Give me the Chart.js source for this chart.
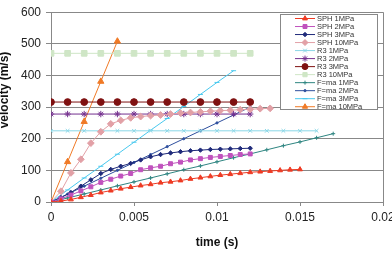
<!DOCTYPE html>
<html>
<head>
<meta charset="utf-8">
<script src="https://cdn.jsdelivr.net/npm/chart.js@4"></script>
<style>
  html, body { margin: 0; padding: 0; background: #fff; overflow: hidden; }
  #wrap { width: 410px; height: 253px; }
</style>
</head>
<body>
<div id="wrap"><canvas id="chart" width="410" height="253"></canvas></div>
<script>
// time grids (s)
const tFine = [0, 0.0006, 0.0012, 0.0018, 0.0024, 0.003, 0.0036, 0.0042, 0.0048, 0.0054, 0.006, 0.0066, 0.0072, 0.0078, 0.0084, 0.009, 0.0096, 0.0102, 0.0108, 0.0114, 0.012, 0.0126, 0.0132, 0.0138, 0.0144, 0.015];
const tStep = [0, 0.001, 0.002, 0.003, 0.004, 0.005, 0.006, 0.007, 0.008, 0.009, 0.01, 0.011, 0.012, 0.013, 0.014, 0.015, 0.016, 0.017];

// velocities (m/s)
const sph1 = [0, 3, 8, 15, 22, 30, 36, 42, 47, 52, 56, 61, 64, 68, 73, 77, 81, 85, 88, 91, 94, 96, 98, 100, 102, 103];
const sph2 = [0, 10, 22, 35, 48, 62, 72, 82, 90, 102, 108, 113, 121, 126, 133, 137, 141, 144, 147, 150, 152];
const sph3 = [0, 14, 30, 50, 70, 90, 103, 113, 122, 133, 143, 150, 155, 159, 162, 164, 166, 167, 168, 169, 170];
const sph10 = [0, 34, 92, 135, 186, 222, 247, 258, 266, 270, 273, 275, 278, 281, 283, 285, 287, 289, 290, 292, 293, 295, 296];
const r3_1 = [225, 225, 225, 225, 225, 225, 225, 225, 225, 225, 225, 225, 225, 225, 225, 225, 225];
const r3_2 = [278, 278, 278, 278, 278, 278, 278, 278, 278, 278, 278, 278, 278];
const r3_3 = [316, 316, 316, 316, 316, 316, 316, 316, 316, 316, 316, 316, 316];
const r3_10 = [470, 470, 470, 470, 470, 470, 470, 470, 470, 470, 470, 470, 470];
const fma1 = [0, 12.7, 25.4, 38, 51, 63.5, 76, 89, 102, 114, 127, 140, 152, 165, 178, 190, 203, 216];
const fma2 = [0, 25, 50, 75, 100, 125, 150, 175, 200, 225, 250, 275, 300];
const fma3 = [0, 38, 76, 113, 151, 189, 227, 264, 302, 340, 378, 415];
const fma10 = [0, 127, 254, 381, 508];

const xTicks = [0, 0.005, 0.01, 0.015, 0.02];
const xTickLabels = ['0', '0.005', '0.01', '0.015', '0.02'];
const yTicks = [0, 100, 200, 300, 400, 500, 600];

function pts(ts, vs) {
  return vs.map((v, i) => ({ x: ts[i], y: v }));
}

function series(label, ts, vs, color, style, radius, fill) {
  return {
    label: label,
    data: pts(ts, vs),
    showLine: true,
    borderColor: color,
    backgroundColor: fill || color,
    pointBorderColor: color,
    pointBackgroundColor: fill || color,
    borderWidth: 1,
    pointStyle: style,
    pointRadius: radius,
    pointBorderWidth: 1,
    pointHoverRadius: radius
  };
}

const datasets = [
  series('SPH 1MPa', tFine, sph1, '#ee3b24', 'triangle', 2.8),
  series('SPH 2MPa', tFine, sph2, '#c052bd', 'rect', 2.8),
  series('SPH 3MPa', tFine, sph3, '#1f2a7a', 'rectRot', 2.2),
  series('SPH 10MPa', tFine, sph10, '#e2a0a6', 'rectRot', 3.4),
  series('R3 1MPa', tStep, r3_1, '#8ad6e6', 'crossRot', 2.6),
  series('R3 2MPa', tStep, r3_2, '#74308e', 'star', 3.2),
  series('R3 3MPa', tStep, r3_3, '#7f1111', 'circle', 3.4),
  series('R3 10MPa', tStep, r3_10, '#cfe6c6', 'rect', 4),
  series('F=ma 1MPa', tStep, fma1, '#2e8581', 'cross', 2),
  series('F=ma 2MPa', tStep, fma2, '#2e4f9e', 'circle', 1.1),
  series('F=ma 3MPa', tStep, fma3, '#48c8ee', 'line', 2.5),
  series('F=ma 10MPa', tStep, fma10, '#f07a26', 'triangle', 3.6)
];

const extras = {
  id: 'extras',
  afterDraw(chart) {
    const ctx = chart.ctx;
    const a = chart.chartArea;
    ctx.save();
    // right frame
    ctx.strokeStyle = '#888';
    ctx.lineWidth = 1;
    ctx.beginPath();
    ctx.moveTo(Math.round(a.right) + 0.5, a.top);
    ctx.lineTo(Math.round(a.right) + 0.5, a.bottom);
    ctx.stroke();

    // axis titles
    ctx.fillStyle = '#111';
    ctx.font = 'bold 12px "Liberation Sans", Arial, sans-serif';
    ctx.textAlign = 'center';
    ctx.textBaseline = 'middle';
    ctx.fillText('time (s)', 217, 243);
    ctx.save();
    ctx.translate(5, 90);
    ctx.rotate(-Math.PI / 2);
    ctx.fillText('velocity (m/s)', 0, 0);
    ctx.restore();

    // legend box
    const bx = 280, by = 14, bw = 97, bh = 95;
    ctx.fillStyle = '#fff';
    ctx.fillRect(bx, by, bw, bh);
    ctx.strokeStyle = '#888';
    ctx.strokeRect(bx + 0.5, by + 0.5, bw, bh);
    ctx.font = '7.5px "Liberation Sans", Arial, sans-serif';
    ctx.textAlign = 'left';
    chart.data.datasets.forEach((ds, i) => {
      const y = 18.5 + i * 8.02;
      ctx.strokeStyle = ds.borderColor;
      ctx.lineWidth = 1;
      ctx.beginPath();
      ctx.moveTo(295, y);
      ctx.lineTo(315, y);
      ctx.stroke();
      ctx.fillStyle = ds.pointBackgroundColor;
      Chart.helpers.drawPoint(ctx, {
        pointStyle: ds.pointStyle,
        radius: Math.min(ds.pointRadius, 3),
        borderWidth: 1,
        rotation: 0
      }, 305, y);
      ctx.fillStyle = '#333';
      ctx.fillText(ds.label, 317, y + 0.5);
    });
    ctx.restore();
  }
};

new Chart(document.getElementById('chart'), {
  type: 'scatter',
  data: { datasets: datasets },
  options: {
    responsive: false,
    animation: false,
    events: [],
    layout: { padding: { top: 10, right: 27, left: 0, bottom: 0 } },
    plugins: {
      legend: { display: false },
      tooltip: { enabled: false }
    },
    scales: {
      x: {
        type: 'linear',
        min: 0,
        max: 0.02,
        afterFit(scale) { scale.height = 51; },
        afterBuildTicks(scale) { scale.ticks = xTicks.map(v => ({ value: v })); },
        ticks: {
          color: '#222',
          font: { family: '"Liberation Sans", Arial, sans-serif', size: 12 },
          padding: 4,
          maxRotation: 0,
          callback: (v) => xTickLabels[xTicks.indexOf(v)]
        },
        grid: { display: true, drawOnChartArea: false, drawTicks: true, tickLength: 4, color: '#888' },
        border: { display: true, color: '#888' }
      },
      y: {
        min: 0,
        max: 600,
        afterFit(scale) { scale.width = 51; },
        afterBuildTicks(scale) { scale.ticks = yTicks.map(v => ({ value: v })); },
        ticks: {
          color: '#222',
          font: { family: '"Liberation Sans", Arial, sans-serif', size: 12 },
          padding: 5
        },
        grid: { color: '#888', lineWidth: 1, tickLength: 5 },
        border: { display: true, color: '#888' }
      }
    }
  },
  plugins: [extras]
});
</script>
</body>
</html>
